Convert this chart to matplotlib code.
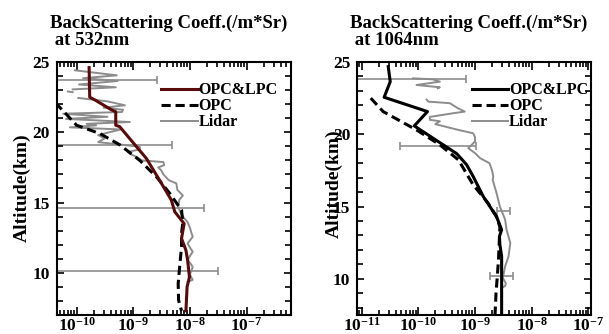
import numpy as np
import matplotlib
matplotlib.use("Agg")
import matplotlib.pyplot as plt
from matplotlib.ticker import LogLocator, MultipleLocator, FuncFormatter, NullFormatter

plt.rcParams['font.family'] = ['Liberation Serif', 'DejaVu Serif']
plt.rcParams['font.weight'] = 'bold'
plt.rcParams['mathtext.fontset'] = 'custom'
plt.rcParams['mathtext.rm'] = 'Liberation Serif:weight=bold'
plt.rcParams['mathtext.bf'] = 'Liberation Serif:weight=bold'
plt.rcParams['mathtext.it'] = 'Liberation Serif:weight=bold'
plt.rcParams['mathtext.default'] = 'bf'

# ---------------- 532 nm panel ----------------
l_fit_alt = [24.6, 22.5, 22.3, 21.6, 21.46, 20.5, 20.4, 18.14, 16.6, 15.17, 14.34, 13.5, 12.44, 11.6, 10.9, 9.7, 9.0, 7.3]
l_fit_val = [1.66e-10, 1.70e-10, 2.1e-10, 4.1e-10, 4.9e-10, 4.9e-10, 5.75e-10, 1.7e-9, 2.9e-9, 4.7e-9, 5.4e-9, 7.9e-9, 7.1e-9, 8.5e-9, 9.1e-9, 9.8e-9, 8.9e-9, 8.5e-9]

l_opc_alt = [22.1, 21.9, 20.5, 19.9, 19.1, 18.0, 16.8, 15.65, 14.46, 13.6, 12.8, 11.85, 10.2, 9.24, 8.05, 7.3]
l_opc_val = [4.2e-11, 4.7e-11, 1.0e-10, 2.6e-10, 5.8e-10, 1.3e-9, 2.6e-9, 4.4e-9, 7.1e-9, 7.5e-9, 7.1e-9, 7.1e-9, 6.5e-9, 6.2e-9, 6.3e-9, 7.1e-9]

l_lid_alt = [24.41, 24.05, 23.85, 23.65, 23.4, 23.2, 23.05, 22.95, 22.9, 22.85, 22.7,
             22.44, 22.2, 21.92, 21.75, 21.6, 21.44, 21.32, 21.1, 20.95, 20.73, 20.6, 20.49,
             20.35, 20.2, 19.8, 19.56, 19.3, 18.97, 18.78, 18.6, 18.47, 18.2, 18.0, 17.88,
             17.66, 17.5, 17.3, 17.0, 16.6, 16.36, 15.9, 15.5, 15.2, 14.7, 14.3, 14.0, 13.6,
             13.2, 12.9, 12.56, 12.1, 11.8, 11.5, 11.2, 10.9, 10.6, 10.4, 9.9, 9.7, 9.5, 9.35]
l_lid_val = [9.3e-11, 5.1e-10, 1.3e-10, 5.3e-10, 1.1e-10, 4.9e-10, 8.5e-11, np.nan, 7.0e-11, 8.5e-11, np.nan,
             1.07e-10, 3.5e-10, 7.1e-10, 3.0e-10, 6.6e-10, 6.3e-10, 5.8e-11, 3.5e-10, 6.5e-11, 8.7e-10, 1.5e-10, 2.2e-10,
             7.6e-11, 6.0e-10, 2.4e-10, 3.1e-10, 2.4e-10, 1.3e-9, 1.3e-9, 8.0e-10, 8.7e-10, 1.2e-9, 1.4e-9, 3.4e-9,
             3.5e-9, 2.75e-9, 3.1e-9, 3.4e-9, 4.2e-9, 5.75e-9, 6.0e-9, 7.5e-9, 6.5e-9, 6.2e-9, 6.8e-9, 7.5e-9, 9.1e-9,
             1.0e-8, 1.05e-8, 1.12e-8, 9.1e-9, 1.0e-8, 1.12e-8, 1.0e-8, 9.1e-9, 1.05e-8, 1.12e-8, 1.0e-8, 1.05e-8, 1.12e-8, 9.1e-9]

l_err_alt = [23.74, 19.1, 14.58, 10.14]
l_err_val = [1.5e-10, 5.0e-10, 6.5e-9, 1.0e-8]
l_err_lo = [1e-12, 1e-12, 1e-12, 1e-12]   # lower ends fall below the axis range
l_err_hi = [2.6e-9, 4.9e-9, 1.74e-8, 3.1e-8]

# ---------------- 1064 nm panel ----------------
r_fit_alt = [24.68, 23.64, 22.56, 21.57, 20.58, 18.65, 17.9, 17.08, 15.7, 14.3, 13.4, 12.94, 12.36, 11.55, 7.4]
r_fit_val = [2.95e-11, 3.2e-11, 2.5e-11, 1.45e-10, 8.5e-11, 4.8e-10, 7.1e-10, 9.3e-10, 1.4e-9, 2.4e-9, 2.95e-9, 2.7e-9, 2.75e-9, 2.95e-9, 2.95e-9]

r_opc_alt = [22.5, 21.57, 20.3, 19.27, 18.23, 16.5, 15.24, 14.3, 13.6, 11.33, 9.95, 9.03, 7.4]
r_opc_val = [1.45e-11, 2.4e-11, 9.3e-11, 2.4e-10, 5.1e-10, 9.3e-10, 1.7e-9, 2.4e-9, 2.75e-9, 2.6e-9, 2.45e-9, 2.35e-9, 2.25e-9]

r_lid_alt = [23.87, 23.8, 23.64, 23.41, 23.25, 23.18, 22.8,
             22.4, 22.26, 22.15, 21.8, 21.57, 21.46, 21.2, 21.0, 20.9, 20.7, 20.5, 20.3, 20.07,
             19.8, 19.5, 19.3, 19.04, 18.7, 18.35, 18.0, 17.5, 17.08, 16.85, 15.93, 15.0, 14.1,
             13.4, 12.48, 11.55, 10.86, 10.06, 9.7, 9.5, 9.4]
r_lid_val = [8.1e-11, 1.8e-10, 2.4e-10, 9.3e-11, 2.4e-10, 2.2e-10, np.nan,
             1.4e-10, 1.5e-10, 3.6e-10, 5.0e-10, 6.6e-10, 4.2e-10, 1.6e-10, 1.6e-10, 2.4e-10, 2.0e-10, 3.2e-10, 5.1e-10, 9.3e-10,
             1.0e-9, 1.0e-9, 8.9e-10, 7.6e-10, 1.0e-9, 1.23e-9, 1.8e-9, 2.0e-9, 2.1e-9, 2.05e-9, 2.4e-9, 2.75e-9, 3.4e-9,
             3.6e-9, 4.2e-9, 3.9e-9, 3.4e-9, 3.1e-9, 3.5e-9, 3.4e-9, 3.0e-9]

r_err_alt = [23.8, 19.2, 14.66, 10.22]
r_err_val = [1.8e-10, 8.9e-10, 3.0e-9, 3.1e-9]
r_err_lo = [8.0e-12, 4.7e-11, 2.45e-9, 1.86e-9]
r_err_hi = [7.0e-10, 1.03e-9, 4.1e-9, 4.6e-9]

legend_labels = ['OPC&LPC', 'OPC', 'Lidar']
title_line1 = 'BackScattering Coeff.(/m*Sr)'
title_line2 = [' at 532nm', ' at 1064nm']

LIDAR_C = '#8c8c8c'

fig = plt.figure(figsize=(6.09, 3.34), dpi=100)
ax1 = fig.add_axes([0.0936, 0.0569, 0.3837, 0.7575])
ax2 = fig.add_axes([0.5867, 0.0569, 0.3833, 0.7575])


def fmt(x, pos):
    e = int(round(np.log10(x)))
    return r'$\mathbf{10^{%d}}$' % e


def style(ax, xlim, ylim):
    ax.set_xscale('log')
    ax.set_xlim(*xlim)
    ax.set_ylim(*ylim)
    ax.xaxis.set_major_locator(LogLocator(base=10, numticks=20))
    ax.xaxis.set_minor_locator(LogLocator(base=10, subs=np.arange(2, 10), numticks=20))
    ax.xaxis.set_major_formatter(FuncFormatter(fmt))
    ax.xaxis.set_minor_formatter(NullFormatter())
    ax.yaxis.set_major_locator(MultipleLocator(5))
    ax.yaxis.set_minor_locator(MultipleLocator(1))
    ax.tick_params(which='both', direction='in', top=True, right=True, width=1.2)
    ax.tick_params(axis='x', which='major', length=6, labelsize=12.5, pad=1.5)
    ax.tick_params(axis='x', which='minor', length=3.5)
    ax.tick_params(axis='y', which='major', length=5, labelsize=12.5, pad=5)
    ax.tick_params(axis='y', which='minor', length=4)
    for s in ax.spines.values():
        s.set_linewidth(1.5)


def panel(ax, fit_alt, fit_val, fit_color, opc_alt, opc_val, lid_alt, lid_val,
          e_alt, e_val, e_lo, e_hi):
    ev = np.array(e_val)
    xerr = [ev - np.array(e_lo), np.array(e_hi) - ev]
    ax.errorbar(e_val, e_alt, xerr=xerr, fmt='none', ecolor=LIDAR_C, elinewidth=1.2,
                capsize=2.6, capthick=1.2, zorder=1)
    h3, = ax.plot(lid_val, lid_alt, color=LIDAR_C, lw=1.4, zorder=2)
    h2, = ax.plot(opc_val, opc_alt, color='black', lw=2.2, ls=(0, (3.0, 1.6)), zorder=3)
    h1, = ax.plot(fit_val, fit_alt, color=fit_color, lw=2.2, zorder=4)
    return [h1, h2, h3]


hs1 = panel(ax1, l_fit_alt, l_fit_val, '#5a0a0a', l_opc_alt, l_opc_val, l_lid_alt, l_lid_val,
            l_err_alt, l_err_val, l_err_lo, l_err_hi)
hs2 = panel(ax2, r_fit_alt, r_fit_val, 'black', r_opc_alt, r_opc_val, r_lid_alt, r_lid_val,
            r_err_alt, r_err_val, r_err_lo, r_err_hi)

style(ax1, (4.5e-11, 6e-7), (7, 25))
style(ax2, (8.4e-12, 1.1e-7), (7.5, 25))

for ax, hs, anchor in [(ax1, hs1, (0.445, 0.92)), (ax2, hs2, (0.49, 0.92))]:
    ax.legend(hs, legend_labels, loc='upper left', bbox_to_anchor=anchor, frameon=False,
              handlelength=2.3, handletextpad=0.05, labelspacing=0.0, borderaxespad=0.0,
              borderpad=0.0, prop={'family': 'Liberation Serif', 'weight': 'bold', 'size': 11.5})

ax1.set_ylabel('Altitude(km)', fontsize=14, fontweight='bold')
ax1.yaxis.set_label_coords(-0.112, 0.505)
ax2.set_ylabel('Altitude(km)', fontsize=14, fontweight='bold')
ax2.yaxis.set_label_coords(-0.062, 0.52)

for x0, line2 in [(50, title_line2[0]), (350, title_line2[1])]:
    fig.text(x0 / 609, 1 - 28 / 334, title_line1, fontsize=13.5, fontweight='bold', va='baseline', ha='left')
    fig.text(x0 / 609, 1 - 45 / 334, line2, fontsize=13.5, fontweight='bold', va='baseline', ha='left')

fig.canvas.draw()
for ax in (ax1, ax2):
    for lab in ax.get_xticklabels() + ax.get_yticklabels():
        lab.set_fontweight('bold')

fig.savefig('out.png', dpi=100)
